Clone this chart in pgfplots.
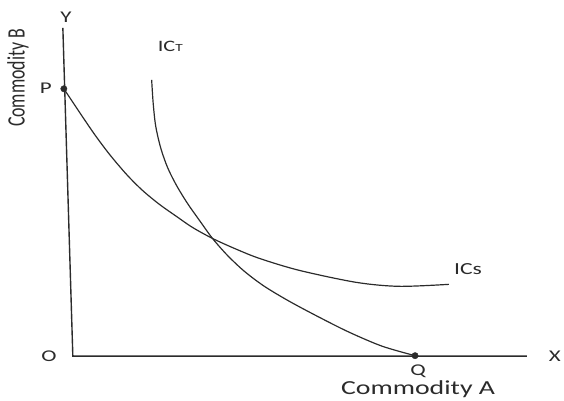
\documentclass[border=0pt]{standalone}
\usepackage{pgfplots}
\pgfplotsset{compat=1.18}
\usepackage{fontspec}
\setmainfont{Carlito}
\definecolor{ink}{HTML}{2B2B2B}
\newcommand{\wide}[1]{\scalebox{1.4}[1]{#1}}
\newcommand{\fs}[1]{\fontsize{#1}{#1}\selectfont}

\begin{document}
\begin{tikzpicture}
\begin{axis}[
  width=564bp, height=398bp, scale only axis,
  xmin=0, xmax=564, ymin=0, ymax=398,
  hide axis, clip=false,
]
\path (rel axis cs:0,0) rectangle (rel axis cs:1,1);

% axes (Y slightly slanted as in the sketch)
\addplot[ink, line width=1.4pt] coordinates {(63,370)(73,41)(528,41)};

% IC_S
\addplot[ink, line width=1.2pt, smooth] coordinates {
  (64,309)(80,285)(95,263)(110,243)(127,223)(143,207)(160,193)(177,181)
  (193,170)(213,159)(235,149)(260,139)(300,127)(357,115)(400,111)(450,113)
};

% IC_T
\addplot[ink, line width=1.2pt, smooth] coordinates {
  (152,318)(153.5,295)(156,272)(161,250)(168,230)(177,212)(188,194)(200,177)
  (213,159)(228,142)(245,126)(265,111)(290,96)(320,80)(350,65)(383,51)(416,41.5)
};

% P and Q
\addplot[only marks, mark=*, mark size=3.2pt, ink] coordinates {(64,309)(416,41.5)};

\node[text=ink] at (axis cs:66,381) {\fs{16.5}\wide{Y}};
\node[text=ink] at (axis cs:46,310) {\fs{16.5}\wide{P}};
\node[text=ink] at (axis cs:49,41) {\fs{16.5}\wide{O}};
\node[text=ink] at (axis cs:556,41) {\fs{16.5}\wide{X}};
\node[text=ink] at (axis cs:419,26) {\fs{16.5}\wide{Q}};
\node[text=ink, anchor=base] at (axis cs:419,3) {\fs{20}\wide{Commodity A}};
\node[text=ink, rotate=90] at (axis cs:18,320) {\fs{18}\scalebox{1}[1.4]{Commodity B}};
\node[text=ink, anchor=base west, inner sep=0pt] at (axis cs:158,346) {\fs{16}\wide{IC{\fs{11}T}}};
\node[text=ink, anchor=base west, inner sep=0pt] at (axis cs:455,123) {\fs{17}\wide{ICs}};
\end{axis}
\end{tikzpicture}
\end{document}
